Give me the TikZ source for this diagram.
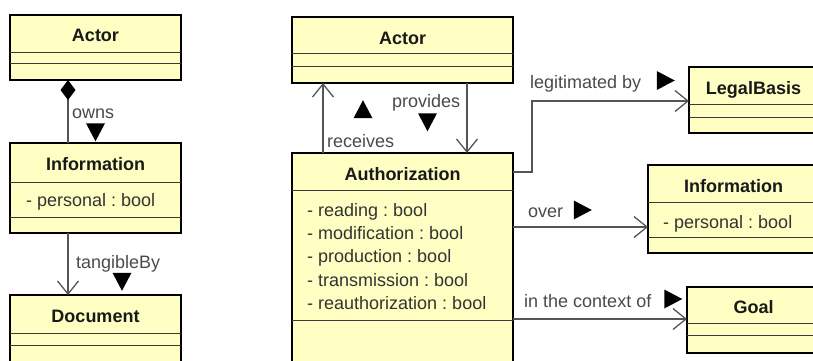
\documentclass[tikz,border=0pt]{standalone}
\usepackage{fontspec}
\setmainfont{Liberation Sans}
\usetikzlibrary{arrows.meta,shapes.geometric}
\definecolor{umlfill}{HTML}{FFFFC4}
\definecolor{wire}{HTML}{555555}
\definecolor{sepline}{HTML}{3A3A3A}
\definecolor{labeltext}{HTML}{4A4A4A}
\definecolor{attrtext}{HTML}{333333}
\frenchspacing
\tikzset{
  umlbox/.style={draw=black, line width=2.2pt, fill=umlfill, rectangle,
    anchor=north west, inner sep=0pt, outer sep=0pt},
  sepline/.style={draw=sepline, line width=1pt},
  classname/.style={anchor=base, inner sep=0pt, font=\bfseries\fontsize{18}{21}\selectfont, text=black!90},
  attr/.style={anchor=base west, inner sep=0pt, font=\fontsize{18}{21}\selectfont, text=attrtext},
  rolelabel/.style={anchor=base west, inner sep=0pt, font=\fontsize{18}{21}\selectfont, text=labeltext},
  wireline/.style={draw=wire, line width=1.3pt},
  assoc/.style={wireline, -{Straight Barb[length=13pt,width=21pt,line width=1.3pt]}},
  owner/.style={wireline, {Diamond[length=20pt,width=15pt,fill=black,color=black]}-},
  navtri/.style={isosceles triangle, isosceles triangle stretches, fill=black,
    inner sep=0pt, outer sep=0pt, minimum width=19pt, minimum height=18pt},
}
\begin{document}
\begin{tikzpicture}[x=1pt,y=-1pt]
\useasboundingbox (0,0) rectangle (813,360);
\clip (0,0) rectangle (813,360);

% ---------- left diagram ----------
\node[umlbox, minimum width=171pt, minimum height=65pt] (lactor) at (10,15) {};
\draw[sepline] (lactor.west |- 0,52) -- (lactor.east |- 0,52);
\draw[sepline] (lactor.west |- 0,63) -- (lactor.east |- 0,63);
\node[classname] (lactorname) at (95.5,41.5) {Actor};

\node[umlbox, minimum width=171pt, minimum height=90pt] (linfo) at (10,143) {};
\draw[sepline] (linfo.west |- 0,182) -- (linfo.east |- 0,182);
\draw[sepline] (linfo.west |- 0,217) -- (linfo.east |- 0,217);
\node[classname] (linfoname) at (95.5,170) {Information};
\node[attr] (linfoattr) at (26,206) {- personal : bool};

\node[umlbox, minimum width=171pt, minimum height=95pt] (ldoc) at (10,295) {};
\draw[sepline] (ldoc.west |- 0,333) -- (ldoc.east |- 0,333);
\draw[sepline] (ldoc.west |- 0,345) -- (ldoc.east |- 0,345);
\node[classname] (ldocname) at (95.5,322) {Document};

% owns (composition)
\draw[owner] ([xshift=58pt]lactor.south west) -- ([xshift=58pt]linfo.north west);
\node[rolelabel] (ownslbl) at (72,118) {owns};
\node[navtri, shape border rotate=270] (ownstri) at (95.5,129) {};

% tangibleBy
\draw[assoc] ([xshift=58pt]linfo.south west) -- ([xshift=58pt]ldoc.north west);
\node[rolelabel] (tanglbl) at (76,268) {tangibleBy};
\node[navtri, shape border rotate=270] (tangtri) at (122,278.5) {};

% ---------- right diagram ----------
\node[umlbox, minimum width=221pt, minimum height=66pt] (ractor) at (292,17) {};
\draw[sepline] (ractor.west |- 0,53) -- (ractor.east |- 0,53);
\draw[sepline] (ractor.west |- 0,66) -- (ractor.east |- 0,66);
\node[classname] (ractorname) at (402.5,44) {Actor};

\node[umlbox, minimum width=221pt, minimum height=240pt] (auth) at (292,153) {};
\draw[sepline] (auth.west |- 0,190) -- (auth.east |- 0,190);
\draw[sepline] (auth.west |- 0,320) -- (auth.east |- 0,320);
\node[classname] (authname) at (402.5,180) {Authorization};
\node[attr] (a1) at (307,216) {- reading : bool};
\node[attr] (a2) at (307,239.3) {- modification : bool};
\node[attr] (a3) at (307,262.6) {- production : bool};
\node[attr] (a4) at (307,286) {- transmission : bool};
\node[attr] (a5) at (307,309.3) {- reauthorization : bool};

\node[umlbox, minimum width=130pt, minimum height=66pt] (legal) at (689,67) {};
\draw[sepline] (legal.west |- 0,104) -- (legal.east |- 0,104);
\draw[sepline] (legal.west |- 0,117) -- (legal.east |- 0,117);
\node[classname] (legalname) at (753.5,94) {LegalBasis};

\node[umlbox, minimum width=171pt, minimum height=88pt] (rinfo) at (648,165) {};
\draw[sepline] (rinfo.west |- 0,202) -- (rinfo.east |- 0,202);
\draw[sepline] (rinfo.west |- 0,237) -- (rinfo.east |- 0,237);
\node[classname] (rinfoname) at (733.5,192) {Information};
\node[attr] (rinfoattr) at (663,228) {- personal : bool};

\node[umlbox, minimum width=132pt, minimum height=66pt] (goal) at (687,287) {};
\draw[sepline] (goal.west |- 0,323) -- (goal.east |- 0,323);
\draw[sepline] (goal.west |- 0,335) -- (goal.east |- 0,335);
\node[classname] (goalname) at (753.5,313) {Goal};

% receives / provides
\draw[assoc] ([xshift=31pt]auth.north west) -- ([xshift=31pt]ractor.south west);
\node[rolelabel] (reclbl) at (327,147) {receives};
\node[navtri, shape border rotate=90] (rectri) at (363,112.5) {};

\draw[assoc] ([xshift=175pt]ractor.south west) -- ([xshift=175pt]auth.north west);
\node[rolelabel] (provlbl) at (392,107) {provides};
\node[navtri, shape border rotate=270] (provtri) at (427.5,119) {};

% legitimated by
\coordinate (legbend) at (532,0);
\draw[assoc] (auth.east |- 0,172) -| (legbend |- 0,101) -- (legal.west |- 0,101);
\node[rolelabel] (leglbl) at (530,88) {legitimated by};
\node[navtri] (legtri) at (662.5,80.5) {};

% over
\draw[assoc] (auth.east |- 0,227) -- (rinfo.west |- 0,227);
\node[rolelabel] (overlbl) at (528,217) {over};
\node[navtri] (overtri) at (579.5,210) {};

% in the context of
\draw[assoc] (auth.east |- 0,319) -- (goal.west |- 0,319);
\node[rolelabel] (ctxlbl) at (524,307) {in the context of};
\node[navtri] (ctxtri) at (670,299) {};
\end{tikzpicture}
\end{document}
